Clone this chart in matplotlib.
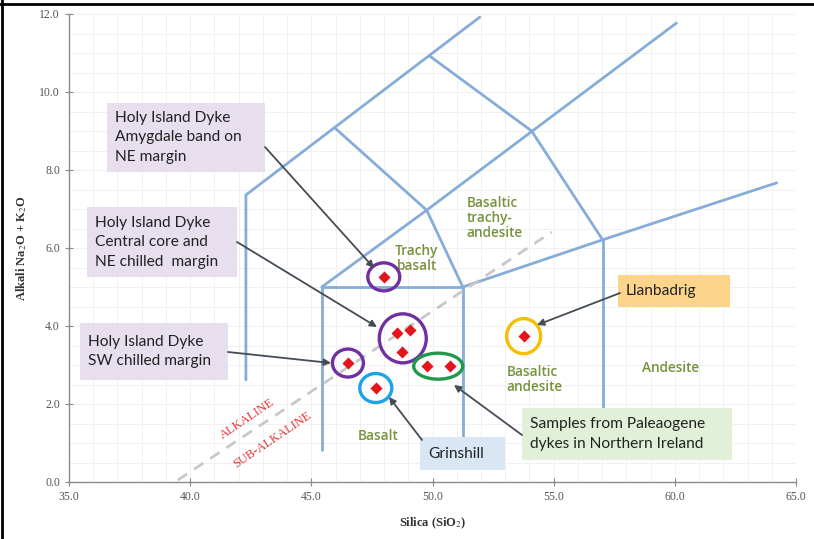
import matplotlib
matplotlib.use("Agg")
import matplotlib.pyplot as plt
from matplotlib.patches import Ellipse, Rectangle
from matplotlib.lines import Line2D
import numpy as np

plt.rcParams["mathtext.fontset"] = "stix"

# ---------------- data ----------------
silica = [47.99, 48.53, 49.06, 48.73, 46.51, 47.66, 49.76, 50.71, 53.76]
alkali = [5.26, 3.82, 3.90, 3.33, 3.05, 2.41, 2.97, 2.97, 3.74]
group = ["Amygdale", "Central", "Central", "Central", "SW",
         "Grinshill", "NI", "NI", "Llanbadrig"]

x_ticks = [35, 40, 45, 50, 55, 60, 65]
y_ticks = [0, 2, 4, 6, 8, 10, 12]

# TAS field boundaries as drawn in the figure
tas_lines = [
    [(42.3, 2.62), (42.3, 7.36), (51.95, 11.92)],
    [(45.97, 9.08), (49.76, 6.97)],
    [(45.43, 5.0), (49.76, 6.97), (60.07, 11.77)],
    [(49.89, 10.92), (54.09, 9.0), (57.02, 6.21)],
    [(49.76, 6.97), (51.25, 5.0)],
    [(45.43, 0.82), (45.43, 5.0), (51.25, 5.0), (51.25, 1.08)],
    [(51.25, 5.0), (57.02, 6.21), (64.2, 7.67)],
    [(57.02, 6.21), (57.02, 1.9)],
]
alk_divider = [(39.49, 0.05), (54.92, 6.41)]

field_labels = [
    ("Trachy\nbasalt", 49.35, 5.72, "center"),
    ("Basaltic\ntrachy-\nandesite", 51.41, 6.77, "left"),
    ("Basaltic\nandesite", 53.06, 2.62, "left"),
    ("Andesite", 59.82, 2.92, "center"),
    ("Basalt", 47.74, 1.18, "center"),
]

# ---------------- figure ----------------
W, H = 814, 539
fig = plt.figure(figsize=(W / 100, H / 100), dpi=100)
x0p, x1p, y0p, y1p = 69, 796, 482, 14
ax = fig.add_axes([x0p / W, 1 - y0p / H, (x1p - x0p) / W, (y0p - y1p) / H])
ax.set_xlim(35, 65)
ax.set_ylim(0, 12)


def P(px, py):
    return (35 + (px - x0p) / (x1p - x0p) * 30, (y0p - py) / (y0p - y1p) * 12)


def sx(pw):
    return pw / (x1p - x0p) * 30


def sy(ph):
    return ph / (y0p - y1p) * 12


# grid
ax.set_xticks(np.arange(35, 65.01, 1), minor=True)
ax.set_yticks(np.arange(0, 12.01, 0.5), minor=True)
ax.grid(which="both", color="#efefef", lw=0.6, zorder=0)
ax.tick_params(which="minor", length=0)

for s in ["top", "right"]:
    ax.spines[s].set_visible(False)
for s in ["left", "bottom"]:
    ax.spines[s].set_color("#8a8a8a")
    ax.spines[s].set_linewidth(1.0)

ax.set_xticks(x_ticks)
ax.set_yticks(y_ticks)
ax.set_xticklabels([f"{v:.1f}" for v in x_ticks])
ax.set_yticklabels([f"{v:.1f}" for v in y_ticks])
ax.tick_params(which="major", direction="inout", length=6, color="#8a8a8a",
               labelsize=8.5, labelcolor="#555555")
for lab in ax.get_xticklabels() + ax.get_yticklabels():
    lab.set_family("Liberation Serif")

ax.set_xlabel("Silica (SiO$_2$)", family="Liberation Serif", fontweight="bold",
              fontsize=9, color="#333333", labelpad=9)
ax.set_ylabel("Alkali Na$_2$O + K$_2$O", family="Liberation Serif",
              fontweight="bold", fontsize=9, color="#333333", labelpad=7)

# boundaries
for seg in tas_lines:
    xs, ys = zip(*seg)
    ax.plot(xs, ys, color="#86acd8", lw=2.0, zorder=2, solid_capstyle="round")
xs, ys = zip(*alk_divider)
ax.plot(xs, ys, color="#c8c8c8", lw=2.0, ls=(0, (4, 3)), zorder=2)

ax.text(*P(247, 419), "ALKALINE", rotation=34, color="#e83030", fontsize=9,
        family="Liberation Serif", ha="center", va="center", zorder=3)
ax.text(*P(272, 440), "SUB-ALKALINE", rotation=34, color="#e83030", fontsize=9,
        family="Liberation Serif", ha="center", va="center", zorder=3)

for txt, fx, fy, ha in field_labels:
    ax.text(fx, fy, txt, color="#76923c", fontsize=9.8, ha=ha, va="center",
            family="Open Sans", fontweight="semibold", linespacing=1.1, zorder=3)

# group circles
circle_style = {
    "Amygdale": ("#7030a0", 32, 28),
    "Central": ("#7030a0", 47, 49),
    "SW": ("#7030a0", 31, 28),
    "Grinshill": ("#1aa3e8", 32, 29),
    "NI": ("#1f9a4b", 49, 26),
    "Llanbadrig": ("#f5bf00", 34, 35),
}
for g, (col, wpx, hpx) in circle_style.items():
    gx = [x for x, gg in zip(silica, group) if gg == g]
    gy = [y for y, gg in zip(alkali, group) if gg == g]
    cx, cy = sum(gx) / len(gx), sum(gy) / len(gy)
    ax.add_patch(Ellipse((cx, cy), sx(wpx), sy(hpx), fill=False, ec=col,
                         lw=2.4, zorder=4))

ax.scatter(silica, alkali, marker="D", s=38, color="#e3141c", zorder=5,
           linewidths=0)

# annotation boxes
boxes = [
    ("Holy Island Dyke\nAmygdale band on\nNE margin", (107, 103, 265, 172), "#e8dfee"),
    ("Holy Island Dyke\nCentral core and\nNE chilled  margin", (87, 207, 237, 277), "#e8dfee"),
    ("Holy Island Dyke\nSW chilled margin", (80, 323, 228, 380), "#e8dfee"),
    ("Llanbadrig", (618, 275, 730, 307), "#fcd58a"),
    ("Samples from Paleaogene\ndykes in Northern Ireland", (522, 408, 732, 460), "#e2efd9"),
    ("Grinshill", (420, 437, 505, 470), "#d9e6f4"),
]
for txt, (l, t, r, b), col in boxes:
    xl, yb = P(l, b)
    ax.add_patch(Rectangle((xl, yb), sx(r - l), sy(b - t), fc=col, ec="none",
                           zorder=6))
    tx, ty = P(l + 8, (t + b) / 2)
    ax.text(tx, ty, txt, fontsize=11.2, family="Lato", color="#222222",
            ha="left", va="center", linespacing=1.5, zorder=7)

arrows = [
    ((265, 147), (374, 268)),
    ((237, 242), (377, 327)),
    ((228, 352), (331, 363)),
    ((620, 293), (537, 325)),
    ((522, 435), (454, 385)),
    ((422, 440), (389, 397)),
]
for (sxp, syp), (txp, typ) in arrows:
    ax.annotate("", xy=P(txp, typ), xytext=P(sxp, syp),
                arrowprops=dict(arrowstyle="-|>", color="#454c55", lw=1.3,
                                mutation_scale=10, shrinkA=0, shrinkB=0),
                zorder=6)

# screenshot frame (top and left)
fig.add_artist(Line2D([0, 1], [1 - 4 / H, 1 - 4 / H], color="black", lw=2))
fig.add_artist(Line2D([2 / W, 2 / W], [0, 1], color="black", lw=2))

fig.savefig("out.png", dpi=100)
